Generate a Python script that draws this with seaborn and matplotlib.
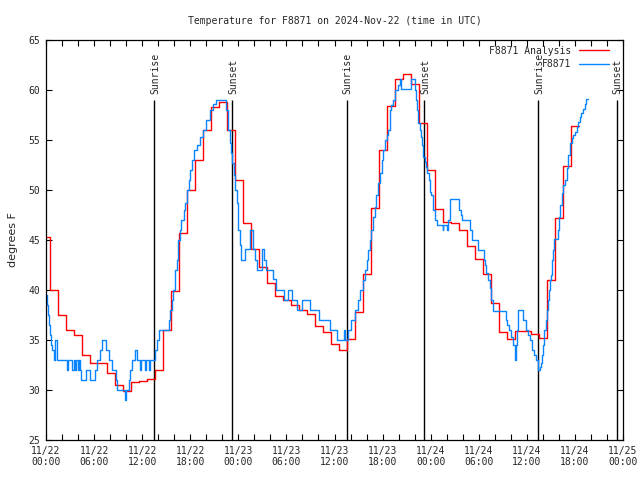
import matplotlib
matplotlib.use("Agg")
import matplotlib.pyplot as plt
import numpy as np
import pandas as pd
import seaborn as sns

# ── data (hours since 2024-11-22 00:00 UTC, degrees F) ───────────────────────
# analysis: one value per hour, steps change at hh:33
red_temps = [
    45.3, 40.0, 37.5, 36.0, 35.5, 33.5, 32.7, 32.7, 31.7, 30.5,
    29.9, 30.8, 30.9, 31.1, 32.0, 36.0, 39.9, 45.7, 50.0, 53.0,
    56.0, 58.3, 58.8, 56.0, 51.0, 46.7, 44.1, 42.3, 40.7, 39.4,
    39.0, 38.5, 38.0, 37.6, 36.4, 35.8, 34.6, 34.0, 35.1, 37.8,
    41.6, 48.2, 54.0, 58.4, 61.1, 61.6, 60.6, 56.7, 52.0, 48.1,
    46.8, 46.7, 46.0, 44.4, 43.1, 41.6, 38.7, 35.8, 35.1, 35.9,
    35.9, 35.6, 35.2, 41.0, 47.2, 52.4, 56.4,
]
red_end = 66.45

# station observations (time of change, new value)
blue_hours = [
    0.0, 0.15, 0.3, 0.4, 0.5, 0.65, 0.8, 1.0, 1.15, 1.35,
    2.6, 2.8, 3.3, 3.45, 3.6, 3.75, 3.95, 4.1, 4.2, 4.4,
    4.95, 5.55, 6.1, 6.4, 6.7, 6.95, 7.45, 7.8, 8.2, 8.7,
    8.9, 9.85, 9.95, 10.3, 10.45, 10.7, 11.1, 11.3, 11.7, 11.9,
    12.3, 12.45, 12.8, 12.95, 13.6, 13.8, 14.1, 15.3, 15.5, 15.7,
    15.9, 16.1, 16.3, 16.5, 16.7, 16.9, 17.2, 17.4, 17.6, 17.8,
    18.0, 18.2, 18.5, 18.8, 19.2, 19.6, 20.0, 20.5, 20.9, 21.2,
    22.5, 22.7, 22.9, 23.05, 23.2, 23.4, 23.6, 23.8, 24.0, 24.15,
    24.3, 24.85, 25.5, 25.85, 26.05, 26.35, 27.0, 27.2, 27.4, 28.35,
    28.65, 29.75, 30.15, 30.75, 31.35, 32.0, 32.95, 34.05, 35.5, 36.35,
    37.2, 37.35, 37.65, 38.05, 38.6, 38.9, 39.2, 39.6, 39.8, 40.0,
    40.2, 40.4, 40.6, 40.8, 41.0, 41.2, 41.45, 41.7, 41.9, 42.1,
    42.3, 42.5, 42.7, 42.9, 43.1, 43.35, 43.55, 43.9, 44.15, 44.35,
    45.55, 46.05, 46.15, 46.3, 46.45, 46.65, 46.8, 46.95, 47.1, 47.25,
    47.4, 47.6, 47.75, 47.9, 48.1, 48.35, 48.6, 48.85, 49.5, 49.6,
    50.0, 50.2, 50.4, 51.55, 51.75, 51.95, 52.9, 53.1, 53.9, 54.6,
    54.75, 54.95, 55.15, 55.4, 55.5, 55.8, 57.35, 57.55, 57.75, 58.0,
    58.3, 58.55, 58.65, 58.8, 58.95, 59.5, 59.85, 60.1, 60.35, 60.7,
    60.9, 61.15, 61.4, 61.6, 61.8, 61.95, 62.05, 62.2, 62.35, 62.5,
    62.65, 62.75, 62.9, 63.05, 63.2, 63.3, 63.4, 63.9, 64.05, 64.2,
    64.35, 64.55, 64.75, 64.95, 65.15, 65.35, 65.6, 65.8, 66.0, 66.2,
    66.4, 66.6, 66.8, 67.0, 67.2, 67.4, 67.6,
]
blue_temps = [
    39.5, 38.5, 37.5, 36.5, 35.5, 34.5, 34.0, 33.0, 35.0, 33.0,
    32.0, 33.0, 32.0, 33.0, 32.0, 33.0, 32.0, 33.0, 32.0, 31.0,
    32.0, 31.0, 32.0, 33.0, 34.0, 35.0, 34.0, 33.0, 32.0, 31.0,
    30.0, 29.0, 30.0, 31.0, 32.0, 33.0, 34.0, 33.0, 32.0, 33.0,
    32.0, 33.0, 32.0, 33.0, 34.0, 35.0, 36.0, 37.0, 38.0, 39.0,
    40.0, 42.0, 43.0, 45.0, 46.0, 47.0, 48.0, 48.7, 50.0, 51.0,
    52.0, 53.0, 54.0, 54.5, 55.3, 56.0, 57.0, 58.0, 58.6, 59.0,
    58.0, 56.0, 54.7, 53.7, 52.7, 51.5, 50.0, 48.7, 46.0, 44.5,
    43.0, 44.1, 46.0, 44.1, 43.0, 42.0, 44.1, 43.0, 42.0, 41.1,
    40.0, 39.0, 40.0, 39.0, 38.0, 39.0, 38.0, 37.0, 36.0, 35.0,
    36.0, 35.0, 36.0, 37.0, 38.0, 39.0, 40.0, 41.0, 42.0, 43.0,
    44.0, 45.0, 46.0, 47.3, 48.3, 49.5, 50.7, 51.7, 53.0, 54.0,
    55.0, 55.5, 56.0, 58.0, 58.5, 59.0, 60.0, 60.5, 61.1, 60.1,
    61.1, 60.0, 59.0, 58.0, 56.7, 56.0, 55.3, 54.5, 53.3, 52.8,
    52.3, 51.7, 51.0, 49.8, 49.5, 48.0, 47.0, 46.5, 46.0, 46.5,
    46.0, 47.0, 49.1, 48.0, 47.5, 47.0, 46.0, 45.0, 44.0, 43.0,
    42.5, 41.7, 41.0, 40.2, 39.0, 37.9, 37.0, 36.5, 36.0, 35.3,
    34.5, 33.0, 34.5, 36.0, 38.0, 37.0, 36.0, 35.5, 35.0, 34.0,
    33.5, 33.0, 32.0, 32.3, 32.7, 33.5, 34.5, 36.0, 37.0, 38.0,
    39.0, 40.0, 41.0, 41.5, 43.0, 44.0, 45.1, 46.0, 47.3, 48.5,
    49.7, 50.5, 51.0, 52.2, 53.5, 54.7, 55.2, 55.5, 55.8, 56.3,
    56.8, 57.3, 57.7, 58.1, 58.6, 59.1, 59.1,
]

sun_hours = [13.52, 23.25, 37.5, 47.21, 61.43, 71.22]
sun_labels = ["Sunrise", "Sunset", "Sunrise", "Sunset", "Sunrise", "Sunset"]

x_ticks = [0, 6, 12, 18, 24, 30, 36, 42, 48, 54, 60, 66, 72]
x_labels = [
    "11/22\n00:00", "11/22\n06:00", "11/22\n12:00", "11/22\n18:00",
    "11/23\n00:00", "11/23\n06:00", "11/23\n12:00", "11/23\n18:00",
    "11/24\n00:00", "11/24\n06:00", "11/24\n12:00", "11/24\n18:00",
    "11/25\n00:00",
]

# ── build frames ──────────────────────────────────────────────────────────────
red_start = np.r_[0.0, np.arange(len(red_temps) - 1) + 0.55]
red_df = pd.DataFrame({
    "hour": np.r_[red_start, red_end],
    "temp": np.r_[red_temps, red_temps[-1]],
})
blue_df = pd.DataFrame({"hour": blue_hours, "temp": blue_temps})

# ── plot ──────────────────────────────────────────────────────────────────────
sns.set_style("ticks")
plt.rcParams["font.family"] = ["DejaVu Sans Mono"]
mono = 7

fig = plt.figure(figsize=(6.4, 4.8), dpi=100)
ax = fig.add_axes([46 / 640, 40 / 480, 577 / 640, 400 / 480])

sns.lineplot(data=red_df, x="hour", y="temp", ax=ax, color="#ff0000",
             lw=1.0, drawstyle="steps-post", sort=False, estimator=None,
             label="F8871 Analysis")
sns.lineplot(data=blue_df, x="hour", y="temp", ax=ax, color="#0a84ff",
             lw=1.0, drawstyle="steps-post", sort=False, estimator=None,
             label="F8871")

ax.vlines(sun_hours, 25, 59, color="black", lw=1.0, zorder=1)
for h, lab in zip(sun_hours, sun_labels):
    ax.text(h + 0.1, 59.6, lab, rotation=90, ha="center", va="bottom",
            fontsize=mono)

ax.set_xlim(0, 72)
ax.set_ylim(25, 65)
ax.set_xticks(x_ticks)
ax.set_xticklabels(x_labels, fontsize=mono)
ax.set_xticks(np.arange(0, 73, 2), minor=True)
ax.set_yticks(np.arange(25, 66, 5))
ax.tick_params(axis="y", labelsize=mono)
ax.tick_params(which="both", direction="in", length=4, width=0.8,
               top=True, right=True, color="black", pad=4)
for s in ax.spines.values():
    s.set_linewidth(0.9)
    s.set_color("black")

ax.set_xlabel("")
ax.set_ylabel("degrees F", fontsize=8, family="DejaVu Sans", labelpad=8)
ax.set_title("Temperature for F8871 on 2024-Nov-22 (time in UTC)",
             fontsize=mono, pad=11.5)

ax.legend(loc="upper right", frameon=False, markerfirst=False,
          fontsize=mono, handlelength=3.0, handletextpad=0.8,
          labelspacing=0.35, borderaxespad=0.2, bbox_to_anchor=(0.985, 1.0))

fig.savefig("out.png", dpi=100)
